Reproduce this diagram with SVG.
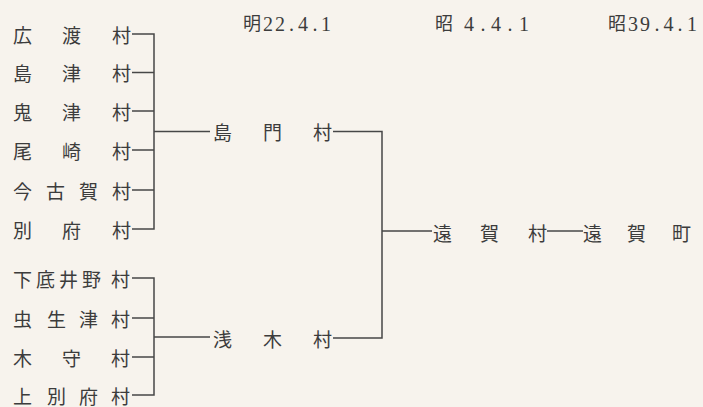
<svg xmlns="http://www.w3.org/2000/svg" width="703" height="407" viewBox="0 0 703 407">
<style>
.bg{fill:#f7f3ed}
.t{font-family:"Noto Sans CJK JP","Noto Sans CJK SC",sans-serif;font-size:19px;fill:#3c3c3c;dominant-baseline:central}
.d{font-family:"Liberation Serif",serif;font-size:20px;fill:#3c3c3c;text-anchor:middle;dominant-baseline:central}
.k{font-family:"Noto Sans CJK JP",sans-serif;font-size:18px;fill:#3c3c3c;dominant-baseline:central}
.c{fill:none;stroke:#474747;stroke-width:1.5}
</style>
<rect class="bg" x="0" y="0" width="703" height="407"/>
<g id="dates">
<text class="k" x="243" y="22">明</text><text class="d" x="268 280 291.5 303 315 326" y="23.5">22.4.1</text>
<text class="k" x="435" y="22">昭</text><text class="d" x="469 483 496 510 524" y="23.5">4.4.1</text>
<text class="k" x="608" y="22">昭</text><text class="d" x="633 645 657 668.5 680 692" y="23.5">39.4.1</text>
</g>
<g id="connectors">
<path class="c" d="M132 34H154V229H132M132 72.5H154M132 111H154M132 150H154M132 190H154M154 131.5H210"/>
<path class="c" d="M132 278H154V395H132M132 318H154M132 357H154M154 337H210"/>
<path class="c" d="M333 131.5H382V338H333M382 231H432"/>
<path class="c" d="M547 231H583"/>
</g>
<g id="hirowatari"><text class="t" x="13 62 112" y="34">広渡村</text></g>
<g id="shimazu"><text class="t" x="13 62 112" y="72.5">島津村</text></g>
<g id="onizu"><text class="t" x="13 62 112" y="111">鬼津村</text></g>
<g id="ozaki"><text class="t" x="13 62 112" y="150">尾崎村</text></g>
<g id="imakoga"><text class="t" x="13 46 79 112" y="190">今古賀村</text></g>
<g id="beppu"><text class="t" x="13 62 112" y="229">別府村</text></g>
<g id="shimosokoino"><text class="t" x="13 36 59 82 111" y="278">下底井野村</text></g>
<g id="mushouzu"><text class="t" x="13 47 79 111" y="318">虫生津村</text></g>
<g id="kimori"><text class="t" x="13 62 111" y="357">木守村</text></g>
<g id="kamibeppu"><text class="t" x="13 47 79 111" y="395">上別府村</text></g>
<g id="shimakado"><text class="t" x="213 263 313" y="131.5">島門村</text></g>
<g id="asaki"><text class="t" x="213 263 313" y="338">浅木村</text></g>
<g id="ongamura"><text class="t" x="433 480 528" y="232">遠賀村</text></g>
<g id="ongamachi"><text class="t" x="583 627 672" y="232">遠賀町</text></g>
</svg>
